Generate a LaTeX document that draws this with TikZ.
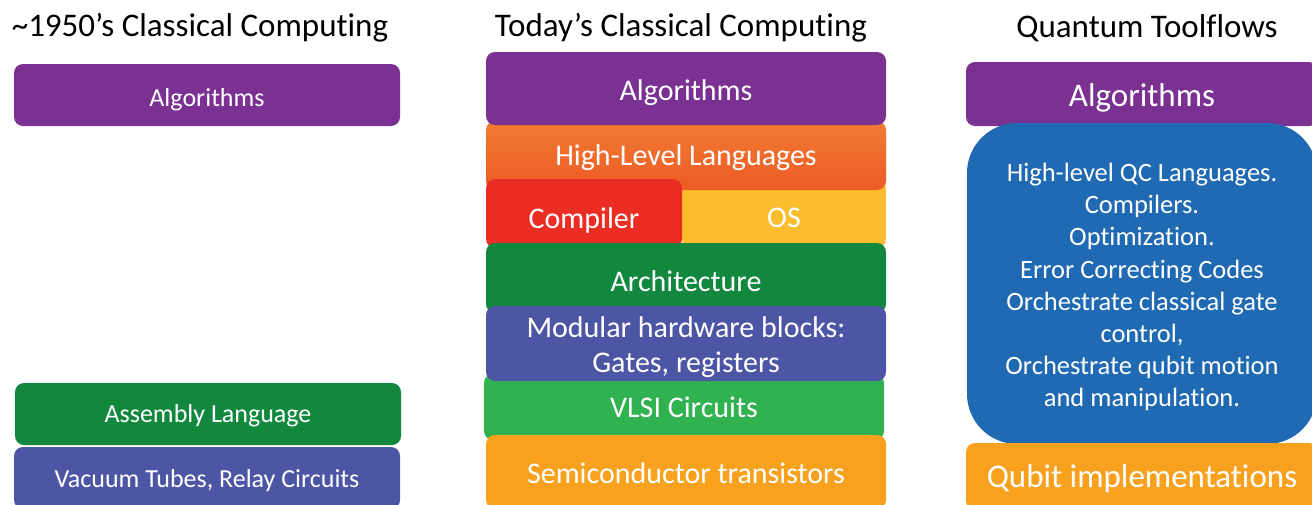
\documentclass[tikz,border=0pt]{standalone}
\usepackage{fontspec}
\setmainfont{Carlito}[Ligatures={NoCommon}]
\definecolor{cpurple}{HTML}{7A3192}
\definecolor{cdgreen}{HTML}{12883F}
\definecolor{cviolet}{HTML}{4C56A5}
\definecolor{chlltop}{HTML}{F07C33}
\definecolor{chllbot}{HTML}{EE5A25}
\definecolor{cred}{HTML}{EC2D24}
\definecolor{cyellow}{HTML}{FBBC2D}
\definecolor{clgreen}{HTML}{30B250}
\definecolor{corange}{HTML}{F7A11F}
\definecolor{cblue}{HTML}{1F6AB3}
\tikzset{
  box/.style={rectangle, rounded corners=9pt, inner sep=0pt},
  lbl/.style={inner sep=0pt, text=white, align=center},
  ttl/.style={inner sep=0pt, text=black, font=\fontsize{33}{40}\selectfont},
  fa/.style={font=\fontsize{26}{31}\selectfont},
  fb/.style={font=\fontsize{30}{35}\selectfont},
  fc/.style={font=\fontsize{33}{40}\selectfont},
  fd/.style={font=\fontsize{26.5}{32.1}\selectfont},
}
\begin{document}
\begin{tikzpicture}[x=1pt,y=-1pt]
\useasboundingbox (0,0) rectangle (1312,504);
\clip (0,0) rectangle (1312,504);
% titles
\node[ttl] (t1) at (200,28) {\textasciitilde1950’s Classical Computing};
\node[ttl] (t2) at (681,28) {Today’s Classical Computing};
\node[ttl] (t3) at (1147,28) {Quantum Toolflows};
% left column
\node[box, fill=cpurple, minimum width=386pt, minimum height=62pt] (alg1) at (207,95) {};
\node[lbl, fa] (alg1t) at (207,100) {Algorithms};
\node[box, fill=cdgreen, minimum width=386pt, minimum height=62pt] (asm) at (208,414) {};
\node[lbl, fa] (asmt) at (208,416) {Assembly Language};
\node[box, fill=cviolet, minimum width=386pt, minimum height=62pt] (vac) at (207,478) {};
\node[lbl, fa] (vact) at (207,481) {Vacuum Tubes, Relay Circuits};
% middle column
\node[box, fill=cyellow, minimum width=204pt, minimum height=68pt] (os) at (784,214) {};
\node[box, top color=chlltop, bottom color=chllbot, minimum width=400pt, minimum height=69pt] (hll) at (686,155.5) {};
\node[lbl, fb] (hllt) at (686,157.5) {High-Level Languages};
\node[box, fill=cred, minimum width=196pt, minimum height=69pt] (comp) at (584,213.5) {};
\node[lbl, fb] (compt) at (584,220.5) {Compiler};
\node[lbl, fb] (ost) at (784,218) {OS};
\node[box, fill=cpurple, minimum width=400pt, minimum height=73pt] (alg2) at (686,88.5) {};
\node[lbl, fb] (alg2t) at (686,92.5) {Algorithms};
\node[box, fill=cdgreen, minimum width=400pt, minimum height=70pt] (arch) at (686,278) {};
\node[lbl, fb] (archt) at (686,281) {Architecture};
\node[box, fill=clgreen, minimum width=400pt, minimum height=66pt] (vlsi) at (684,407) {};
\node[lbl, fb] (vlsit) at (684,407) {VLSI Circuits};
\node[box, fill=cviolet, minimum width=400pt, minimum height=75pt] (mod) at (686,343.5) {};
\node[lbl, fb] (modt) at (686,347.5) {Modular hardware blocks:\\Gates, registers};
\node[box, fill=corange, minimum width=400pt, minimum height=74pt] (semi) at (686,472) {};
\node[lbl, fb] (semit) at (686,473) {Semiconductor transistors};
% right column
\node[box, fill=cpurple, minimum width=352pt, minimum height=64pt] (alg3) at (1142,94) {};
\node[lbl, fc] (alg3t) at (1142,98) {Algorithms};
\node[box, fill=cblue, rounded corners=50pt, minimum width=350pt, minimum height=321pt] (qc) at (1142,283.5) {};
\node[lbl, fd] (qct) at (1142,287) {High-level QC Languages.\\Compilers.\\Optimization.\\Error Correcting Codes\\Orchestrate classical gate\\control,\\Orchestrate qubit motion\\and manipulation.};
\node[box, fill=corange, minimum width=352pt, minimum height=67pt] (qub) at (1142,476.5) {};
\node[lbl, fc] (qubt) at (1142,478.5) {Qubit implementations};
\end{tikzpicture}
\end{document}
